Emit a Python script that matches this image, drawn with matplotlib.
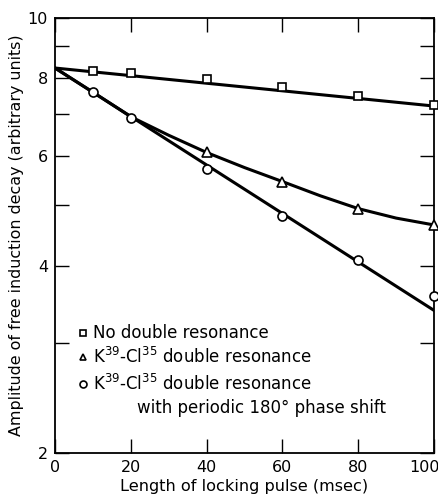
import numpy as np
import matplotlib
matplotlib.use('Agg')
import matplotlib.pyplot as plt
import matplotlib.transforms as mtransforms
from matplotlib.ticker import FixedLocator, FixedFormatter, NullFormatter

plt.rcParams['font.family'] = ['DejaVu Sans']

# measured points
sq_x = [10, 20, 40, 60, 80, 100]
sq_y = [8.22, 8.16, 7.98, 7.75, 7.50, 7.25]
tri_x = [40, 60, 80, 100]
tri_y = [6.08, 5.46, 4.93, 4.65]
circ_x = [10, 20, 40, 60, 80, 100]
circ_y = [7.60, 6.90, 5.73, 4.81, 4.09, 3.57]

# drawn curves
sq_fit_x = [0, 100]
sq_fit_y = [8.31, 7.22]
circ_fit_x = [0, 100]
circ_fit_y = [8.31, 3.39]
tri_fit_x = [0, 10, 20, 30, 40, 50, 60, 70, 80, 90, 100]
tri_fit_y = [8.31, 7.60, 6.94, 6.48, 6.08, 5.75, 5.46, 5.18, 4.94, 4.77, 4.65]

y_major = [2, 4, 6, 8, 10]
y_minor = [3, 5, 7, 9]
x_ticks = [0, 20, 40, 60, 80, 100]

fig = plt.figure(figsize=(4.39, 4.97), dpi=100)
ax = fig.add_axes([0.1253, 0.0885, 0.8633, 0.8753])

lw = 2.2
ax.plot(sq_fit_x, sq_fit_y, color='black', lw=lw, zorder=2)
ax.plot(circ_fit_x, circ_fit_y, color='black', lw=lw, zorder=2)
ax.plot(tri_fit_x, tri_fit_y, color='black', lw=lw, zorder=2)

mk = dict(color='black', markerfacecolor='white', markeredgewidth=1.2,
          linestyle='none', zorder=3, clip_on=False)
ax.plot(sq_x, sq_y, marker='s', markersize=6, **mk)
ax.plot(tri_x, tri_y, marker='^', markersize=7, **mk)
ax.plot(circ_x, circ_y, marker='o', markersize=6.5, **mk)

ax.set_xlim(0, 100)
ax.set_yscale('log')
ax.set_ylim(2, 10)
ax.yaxis.set_major_locator(FixedLocator(y_major))
ax.yaxis.set_major_formatter(FixedFormatter([str(v) for v in y_major]))
ax.yaxis.set_minor_locator(FixedLocator(y_minor))
ax.yaxis.set_minor_formatter(NullFormatter())
ax.xaxis.set_major_locator(FixedLocator(x_ticks))
ax.xaxis.set_minor_locator(FixedLocator([]))

ax.tick_params(axis='both', which='both', direction='in', top=True, right=True,
               length=10, width=1.0, labelsize=11.5, pad=5)
for s in ax.spines.values():
    s.set_linewidth(1.3)

# keep "100" inside the figure
last = ax.get_xticklabels()[-1]
last.set_transform(last.get_transform() + mtransforms.ScaledTranslation(-9 / 100, 0, fig.dpi_scale_trans))

ax.set_xlabel('Length of locking pulse (msec)', fontsize=11.6, labelpad=3)
ax.set_ylabel('Amplitude of free induction decay (arbitrary units)', fontsize=11.4, labelpad=3)

# legend drawn by hand
tr = ax.transAxes
fs = 12
ax.plot([0.075], [0.277], marker='s', markersize=4.5, **dict(mk, transform=tr))
ax.text(0.10, 0.277, 'No double resonance', transform=tr, fontsize=fs, va='center')
ax.plot([0.075], [0.220], marker='^', markersize=5, **dict(mk, transform=tr))
ax.text(0.10, 0.220, 'K$^{39}$-Cl$^{35}$ double resonance', transform=tr, fontsize=fs, va='center')
ax.plot([0.075], [0.158], marker='o', markersize=5, **dict(mk, transform=tr))
ax.text(0.10, 0.158, 'K$^{39}$-Cl$^{35}$ double resonance', transform=tr, fontsize=fs, va='center')
ax.text(0.216, 0.103, 'with periodic 180° phase shift', transform=tr, fontsize=fs, va='center')

fig.savefig('out.png', dpi=100)
